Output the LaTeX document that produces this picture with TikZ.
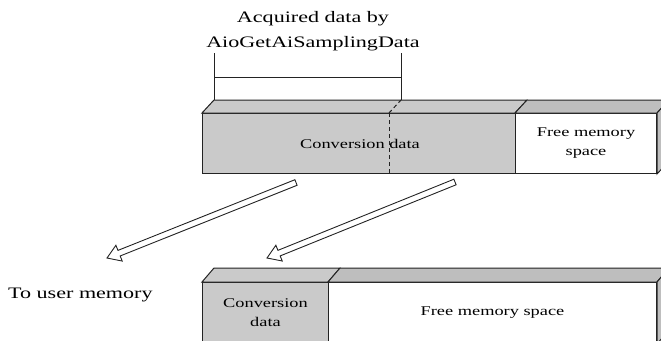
\documentclass[tikz,border=0pt]{standalone}
\usepackage{fontspec}
\setmainfont{Liberation Serif}[FakeStretch=1.38]
\usetikzlibrary{calc}
\definecolor{convgray}{RGB}{202,202,202}
\definecolor{topgray}{RGB}{190,190,190}
\definecolor{edge}{RGB}{35,35,35}
\newcommand\bigfont{\fontsize{16}{25}\selectfont}
\newcommand\smallfont{\fontsize{13.3}{19}\selectfont}
\newcommand\hollowarrow[2]{%
  \path ($(#2)!13pt!(#1)$) coordinate (#1neck);
  \draw[arrowline]
    ($(#1)!3pt!90:(#2)$) -- ($(#1neck)!3pt!90:(#2)$) -- ($(#1neck)!8.5pt!90:(#2)$)
    -- (#2)
    -- ($(#1neck)!8.5pt!-90:(#2)$) -- ($(#1neck)!3pt!-90:(#2)$) -- ($(#1)!3pt!-90:(#2)$)
    -- cycle;}
\tikzset{
  membox/.style={draw=edge, line width=1pt, anchor=north west, inner sep=0pt,
    align=center, font=\smallfont},
  face/.style={draw=edge, line width=1pt, line join=miter},
  thin/.style={draw=edge, line width=1pt},
  arrowline/.style={draw=edge, line width=0.9pt, fill=white, line join=miter},
  label/.style={inner sep=0pt, align=center, font=\bigfont}
}
\begin{document}
\begin{tikzpicture}[x=1pt, y=-1pt]
\useasboundingbox (0,0) rectangle (661,340);
\clip (0,0) rectangle (661,340);

% upper memory bar
\node[membox, fill=convgray, minimum width=313pt, minimum height=60pt] (c1) at (202,113) {};
\node[membox, fill=white, minimum width=141pt, minimum height=60pt] (f1) at (515,113)
  {Free memory\\space};
\draw[face, fill=convgray] (c1.north west) -- ++(12,-13) -- ($(f1.north west)+(12,-13)$)
  -- (f1.north west) -- cycle;
\draw[face, fill=topgray] (f1.north west) -- ++(12,-13) -- ($(f1.north east)+(12,-13)$)
  -- (f1.north east) -- cycle;
\draw[face, fill=topgray] (f1.north east) -- ++(12,-13) -- ($(f1.south east)+(12,-13)$)
  -- (f1.south east) -- cycle;
\node[font=\smallfont, inner sep=0pt, anchor=base] (ctext1) at (360,148) {Conversion data};

% dashed boundary of acquired data
\coordinate (d) at (389,113);
\draw[thin, dash pattern=on 4pt off 3pt] (d) -- (d |- c1.south);
\draw[thin, dash pattern=on 4pt off 3pt] (d) -- ++(12,-13);

% bracket
\coordinate (bl) at ($(c1.north west)+(12,-13)$);
\coordinate (br) at ($(d)+(12,-13)$);
\draw[thin] (bl) -- ++(0,-47);
\draw[thin] (br) -- ++(0,-47);
\draw[thin] ($(bl)+(0,-23)$) -- ($(br)+(0,-23)$);
\node[label] (lbl) at (313,31) {Acquired data by\\AioGetAiSamplingData};

% lower memory bar
\node[membox, fill=convgray, minimum width=126pt, minimum height=61pt] (c2) at (202,282)
  {Conversion\\data};
\node[membox, fill=white, minimum width=328pt, minimum height=61pt] (f2) at (328,282)
  {Free memory space};
\draw[face, fill=convgray] (c2.north west) -- ++(12,-14) -- ($(f2.north west)+(12,-14)$)
  -- (f2.north west) -- cycle;
\draw[face, fill=topgray] (f2.north west) -- ++(12,-14) -- ($(f2.north east)+(12,-14)$)
  -- (f2.north east) -- cycle;
\draw[face, fill=topgray] (f2.north east) -- ++(12,-14) -- ($(f2.south east)+(12,-14)$)
  -- (f2.south east) -- cycle;

% user memory label
\node[font=\bigfont, inner sep=0pt, anchor=base west] (user) at (8,298) {To user memory};

% arrows
\coordinate (t1) at (296,182.5);
\coordinate (h1) at (107,258);
\coordinate (t2) at (455,182);
\coordinate (h2) at (267,258);
\hollowarrow{t1}{h1}
\hollowarrow{t2}{h2}
\end{tikzpicture}
\end{document}
